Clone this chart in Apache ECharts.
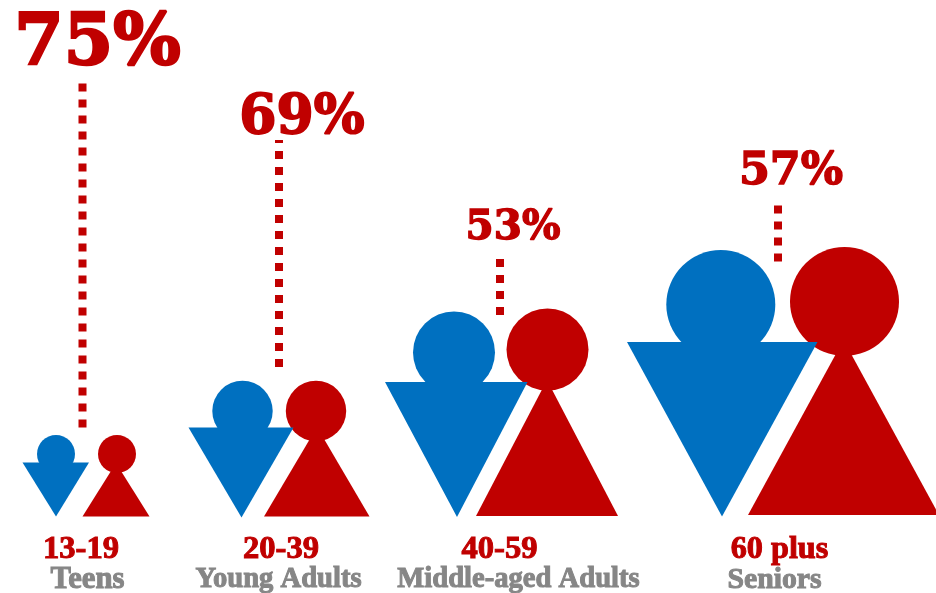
<!DOCTYPE html>
<html>
<head>
<meta charset="utf-8">
<style>html,body{margin:0;padding:0;background:#fff}#chart{width:936px;height:593px}</style>
<script src="https://cdn.jsdelivr.net/npm/echarts@6/dist/echarts.min.js"></script>
</head>
<body>
<div id="chart"></div>
<script>
// Share of women in each age group, with the age band and group name
const ageRanges = ['13-19', '20-39', '40-59', '60 plus'];
const groupNames = ['Teens', 'Young Adults', 'Middle-aged Adults', 'Seniors'];
const womenShare = [75, 69, 53, 57];

const RED = '#c00000', BLUE = '#0070c0', GREY = '#868686';

// Layout of the pictogram, in canvas units
const men = [
  { head: [56, 454, 19],      left: 22.5, right: 89,  top: 462.5, tipX: 56,  tipY: 516.5 },
  { head: [242.5, 411, 30.2], left: 188.5, right: 293.5, top: 427.5, tipX: 241.5, tipY: 517.5 },
  { head: [454, 352.5, 41],   left: 385, right: 527.5, top: 382, tipX: 457, tipY: 517 },
  { head: [720.8, 304.5, 54.5], left: 627, right: 817.5, top: 342, tipX: 722, tipY: 516.5 }
];
const women = [
  { head: [117, 454, 19],     left: 82.5, right: 149.5, base: 516.5, peakX: 116, peakY: 463 },
  { head: [316, 411, 30.2],   left: 264, right: 369.5, base: 516.5, peakX: 317, peakY: 427 },
  { head: [547.5, 349.5, 41], left: 476, right: 618, base: 516, peakX: 547, peakY: 380 },
  { head: [844.5, 301.5, 54.5], left: 748, right: 939, base: 515, peakX: 843.5, peakY: 340 }
];
const leaders = [
  { x: 82.5, top: 83.5, bottom: 428, offset: 0 },
  { x: 279, top: 140, bottom: 367.5, offset: 5 },
  { x: 500, top: 259, bottom: 315, offset: 0 },
  { x: 778, top: 205.5, bottom: 261.5, offset: 0 }
];
// Text anchors: [x, middle y, font size, outline width]
const shareLabels = [[97.5, 45.5, 71, 2.5], [302, 119.5, 53.5, 1.8], [513, 228, 40.5, 1.4], [791, 172.5, 44.5, 1.5]];
const rangeLabels = [[81, 550, 32.6, 1], [281, 550, 32.6, 1], [499.5, 550, 32.6, 1], [779.5, 550, 32.2, 1]];
const nameLabels = [[87.5, 580, 30.7, 1], [278.5, 580, 28.6, 1], [518.5, 580, 28.6, 1], [774.5, 580, 29.7, 1]];

function indexData(arr) { return arr.map((_, i) => [i]); }

function pt(api, x, y) { return api.coord([x, y]); }

function renderFigure(list, color, triangle) {
  return (params, api) => {
    const f = list[api.value(0)];
    const c = pt(api, f.head[0], f.head[1]);
    return {
      type: 'group',
      children: [
        { type: 'circle', shape: { cx: c[0], cy: c[1], r: f.head[2] }, style: { fill: color } },
        { type: 'polygon', shape: { points: triangle(f).map(p => pt(api, p[0], p[1])) }, style: { fill: color } }
      ]
    };
  };
}

// A row of centred labels carried by invisible points
function labelSeries(anchors, texts, family, color) {
  return {
    type: 'scatter',
    silent: true,
    animation: false,
    symbolSize: 0,
    data: anchors.map((a, i) => ({
      value: [a[0], a[1]],
      label: {
        show: true, position: 'inside', formatter: String(texts[i]),
        fontFamily: family, fontWeight: 'bold', fontSize: a[2], color: color, opacity: 1,
        textBorderColor: color, textBorderWidth: a[3],
        align: 'center', verticalAlign: 'middle'
      }
    }))
  };
}

const leaderSeries = leaders.map(l => ({
  type: 'line',
  silent: true,
  symbol: 'none',
  animation: false,
  data: [[l.x, l.top], [l.x, l.bottom]],
  lineStyle: { color: RED, width: 8, type: [8, 8], dashOffset: l.offset, cap: 'butt' }
}));

const common = { type: 'custom', silent: true, animation: false, clip: false };

const chart = echarts.init(document.getElementById('chart'), null, { renderer: 'canvas' });
chart.setOption({
  animation: false,
  backgroundColor: '#fff',
  grid: { left: 0, right: 0, top: 0, bottom: 0 },
  xAxis: { type: 'value', min: 0, max: 936, show: false },
  yAxis: { type: 'value', min: 0, max: 593, inverse: true, show: false },
  series: [
    ...leaderSeries,
    Object.assign({}, common, {
      data: indexData(women),
      renderItem: renderFigure(women, RED, f => [[f.left, f.base], [f.right, f.base], [f.peakX, f.peakY]])
    }),
    Object.assign({}, common, {
      data: indexData(men),
      renderItem: renderFigure(men, BLUE, f => [[f.left, f.top], [f.right, f.top], [f.tipX, f.tipY]])
    }),
    labelSeries(shareLabels, womenShare.map(v => v + '%'), 'DejaVu Serif', RED),
    labelSeries(rangeLabels, ageRanges, 'Liberation Serif', RED),
    labelSeries(nameLabels, groupNames, 'Liberation Serif', GREY)
  ]
});
</script>
</body>
</html>
